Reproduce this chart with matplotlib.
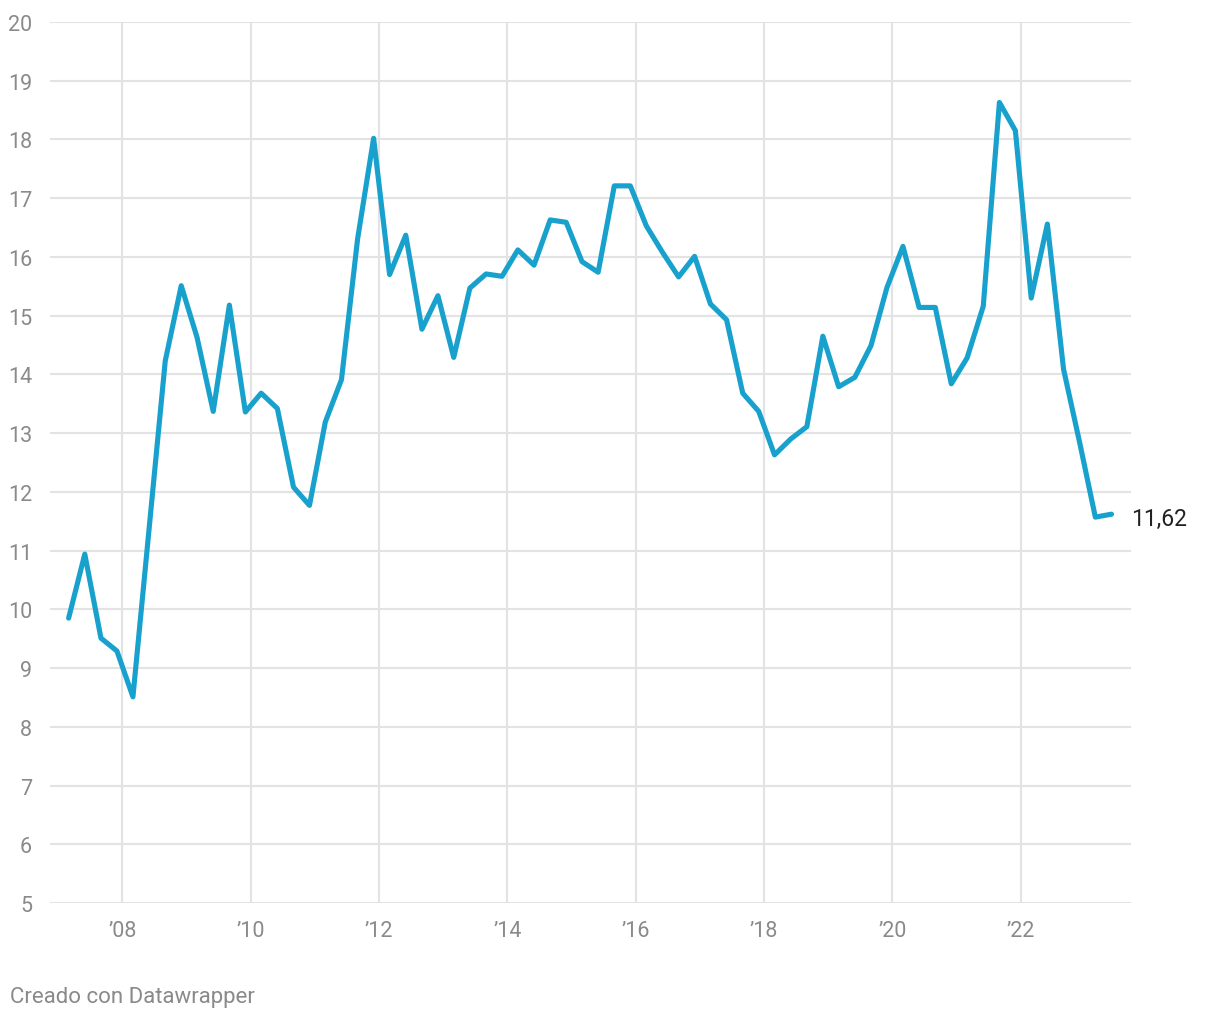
import pandas as pd
import matplotlib.pyplot as plt

plt.rcParams['font.family'] = ['Roboto', 'DejaVu Sans']

# quarterly values, 2007 Q1 .. 2023 Q2 (dated at the 3rd month of each quarter)
start = "2007-03-01"
values = [9.85, 10.94, 9.51, 9.29,
          8.51, 11.37, 14.23, 15.51,
          14.63, 13.37, 15.18, 13.36,
          13.68, 13.42, 12.08, 11.77,
          13.19, 13.91, 16.31, 18.02,
          15.70, 16.37, 14.77, 15.34,
          14.29, 15.47, 15.71, 15.67,
          16.12, 15.86, 16.63, 16.59,
          15.92, 15.74, 17.21, 17.21,
          16.53, 16.08, 15.66, 16.01,
          15.20, 14.93, 13.68, 13.37,
          12.63, 12.90, 13.11, 14.65,
          13.79, 13.95, 14.49, 15.48,
          16.18, 15.14, 15.14, 13.84,
          14.28, 15.16, 18.63, 18.15,
          15.30, 16.56, 14.09, 12.85,
          11.57, 11.62]
dates = pd.date_range(start, periods=len(values), freq="3MS")

tick_years = [2008, 2010, 2012, 2014, 2016, 2018, 2020, 2022]
tick_labels = ["\u201908", "\u201910", "\u201912", "\u201914", "\u201916", "\u201918", "\u201920", "\u201922"]
y_ticks = list(range(5, 21))
end_label = "11,62"

fig = plt.figure(figsize=(12.2, 10.2), dpi=100)
ax = fig.add_axes([50 / 1220, 1 - 904 / 1020, (1131 - 50) / 1220, (904 - 23) / 1020])

ax.plot(dates, values, color="#18a1cd", lw=3.7, solid_joinstyle="round", solid_capstyle="round", zorder=3)

ax.set_ylim(5, 20)
ax.set_xlim(pd.Timestamp("2006-11-15"), pd.Timestamp("2023-09-20"))
ax.set_yticks(y_ticks)
ax.set_xticks([pd.Timestamp(f"{y}-01-01") for y in tick_years])
ax.set_xticklabels(tick_labels)

ax.grid(True, color="#e3e3e3", lw=1.5)
ax.set_axisbelow(True)
for s in ax.spines.values():
    s.set_visible(False)
ax.tick_params(axis="both", length=0, labelsize=15.5, labelcolor="#8a8a8a")
ax.tick_params(axis="y", pad=13)
ax.tick_params(axis="x", pad=12)

ax.annotate(end_label, (dates[-1], values[-1]), xytext=(14, -3), textcoords="offset points",
            va="center", ha="left", fontsize=16.5, color="#222222")

fig.text(10 / 1220, 1 - 998 / 1020, "Creado con Datawrapper", fontsize=16, color="#8a8a8a", va="center")

fig.savefig("out.png", dpi=100)
